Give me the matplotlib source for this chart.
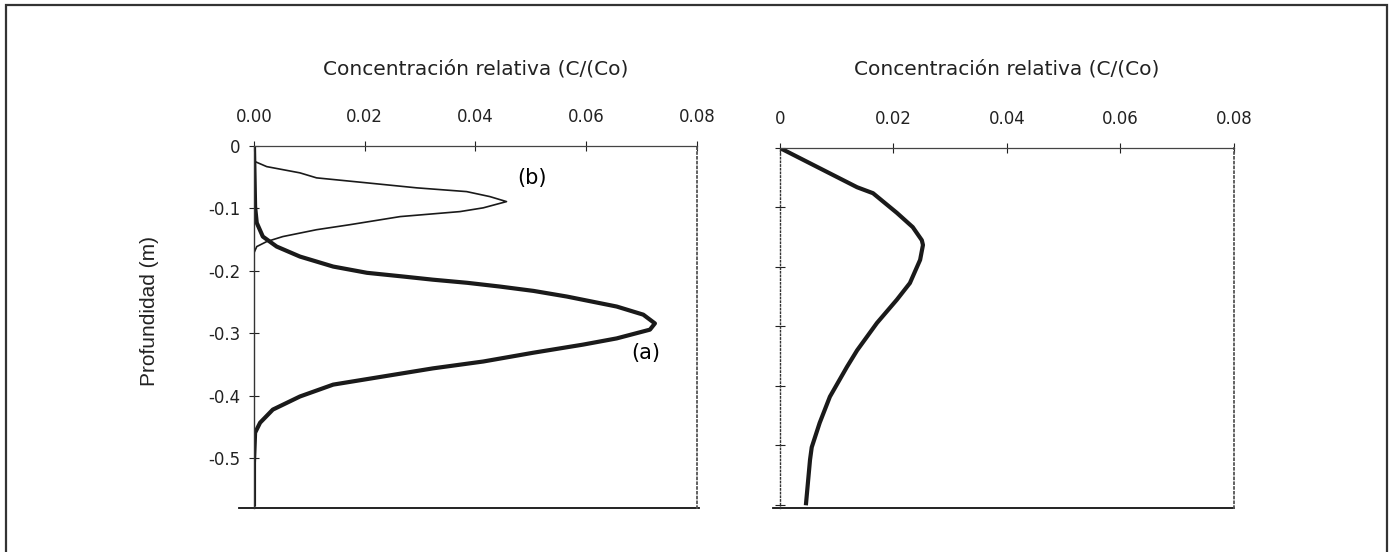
import matplotlib
matplotlib.use("Agg")
import matplotlib.pyplot as plt
from matplotlib.patches import Rectangle

plt.rcParams['font.family'] = ['DejaVu Sans']
plt.rcParams['axes.unicode_minus'] = False

# curve (a): thick, deeper peak
a_conc = [0.0, 0.0002, 0.0005, 0.0016, 0.0041, 0.0083, 0.0143, 0.0204, 0.0270,
          0.0323, 0.0385, 0.0444, 0.0505, 0.0565, 0.0655, 0.0703, 0.0724, 0.0715,
          0.0655, 0.0594, 0.0504, 0.0414, 0.0323, 0.0233, 0.0143, 0.0083,
          0.0034, 0.0011, 0.0002, 0.0, 0.0]
a_depth = [0.0, -0.097, -0.123, -0.145, -0.161, -0.177, -0.193, -0.203, -0.209,
           -0.214, -0.219, -0.225, -0.232, -0.241, -0.257, -0.270, -0.284, -0.294,
           -0.308, -0.318, -0.331, -0.345, -0.356, -0.369, -0.382, -0.401,
           -0.422, -0.443, -0.459, -0.507, -0.574]

# curve (b): thin, shallow peak
b_conc = [0.0, 0.0002, 0.0023, 0.0083, 0.0113, 0.0204, 0.0294, 0.0384, 0.0426,
          0.0456, 0.0414, 0.0372, 0.0264, 0.0173, 0.0113, 0.0052, 0.0023, 0.0005, 0.0001]
b_depth = [-0.001, -0.025, -0.033, -0.043, -0.051, -0.059, -0.067, -0.073, -0.081,
           -0.089, -0.099, -0.105, -0.113, -0.126, -0.134, -0.145, -0.153, -0.161, -0.169]

# right panel profile
r_conc = [0.0, 0.0136, 0.0164, 0.0206, 0.0234, 0.0250, 0.0252, 0.0247, 0.0229,
          0.0206, 0.0171, 0.0136, 0.0118, 0.0088, 0.0070, 0.0056, 0.0053, 0.0046]
r_depth = [0.0, -0.066, -0.076, -0.109, -0.133, -0.155, -0.163, -0.188, -0.227,
           -0.255, -0.294, -0.340, -0.368, -0.418, -0.462, -0.503, -0.524, -0.597]

x_ticks = [0.0, 0.02, 0.04, 0.06, 0.08]
x_labels_left = ['0.00', '0.02', '0.04', '0.06', '0.08']
x_labels_right = ['0', '0.02', '0.04', '0.06', '0.08']
y_ticks_left = [0.0, -0.1, -0.2, -0.3, -0.4, -0.5]
y_labels_left = ['0', '-0.1', '-0.2', '-0.3', '-0.4', '-0.5']
y_ticks_right = [0.0, -0.1, -0.2, -0.3, -0.4, -0.5, -0.6]

title = 'Concentración relativa (C/(Co)'

fig = plt.figure(figsize=(13.94, 5.52), dpi=100)
fig.patches.append(Rectangle((6 / 1394, -0.02), 1381 / 1394, 1.02 - 5 / 552,
                             transform=fig.transFigure, fill=False,
                             edgecolor='#333333', linewidth=1.6))

ax1 = fig.add_axes([0.1822, 0.0803, 0.3178, 0.6552])
ax2 = fig.add_axes([0.5595, 0.0803, 0.3257, 0.6516])


def style_axes(ax, left_style, title_y):
    ax.xaxis.tick_top()
    ax.set_xlim(0, 0.08)
    ax.set_xticks(x_ticks)
    ax.tick_params(axis='both', direction='inout', length=7, width=0.8,
                   colors='#222222', labelsize=12)
    ax.tick_params(axis='x', pad=11)
    ax.tick_params(axis='y', pad=6)
    ax.spines['top'].set_color('#444444')
    ax.spines['top'].set_linewidth(0.9)
    ax.spines['right'].set_linestyle(':')
    ax.spines['right'].set_color('#555555')
    ax.spines['right'].set_linewidth(1.3)
    ax.spines['left'].set_linestyle(left_style)
    ax.spines['left'].set_color('#333333')
    ax.spines['left'].set_linewidth(1.0)
    ax.spines['bottom'].set_visible(False)
    ax.xaxis.set_label_position('top')
    ax.set_xlabel(title, fontsize=14.5, color='#222222')
    ax.xaxis.set_label_coords(0.5, title_y)


style_axes(ax1, '-', 1.199)
ax1.set_ylim(-0.579, 0)
ax1.set_yticks(y_ticks_left)
ax1.set_yticklabels(y_labels_left)
ax1.set_xticklabels(x_labels_left)
ax1.set_ylabel('Profundidad (m)', fontsize=15, color='#222222',
               family=['Liberation Sans'])
ax1.yaxis.set_label_coords(-0.215, 0.544)
ax1.plot(b_conc, b_depth, color='#1a1a1a', linewidth=1.2)
ax1.plot(a_conc, a_depth, color='#1a1a1a', linewidth=3.0)
ax1.text(0.0502, -0.051, '(b)', fontsize=15, ha='center', va='center')
ax1.text(0.0708, -0.331, '(a)', fontsize=15, ha='center', va='center')
ax1.plot([-0.034, 1.005], [0, 0], transform=ax1.transAxes, color='#111111',
         linewidth=1.3, clip_on=False)

style_axes(ax2, ':', 1.205)
ax2.set_ylim(-0.6045, 0)
ax2.set_yticks(y_ticks_right)
ax2.set_yticklabels([])
ax2.set_xticklabels(x_labels_right)
ax2.plot(r_conc, r_depth, color='#1a1a1a', linewidth=3.0)
ax2.plot([-0.015, 1.0], [0, 0], transform=ax2.transAxes, color='#111111',
         linewidth=1.3, clip_on=False)

fig.savefig('out.png', dpi=100)
